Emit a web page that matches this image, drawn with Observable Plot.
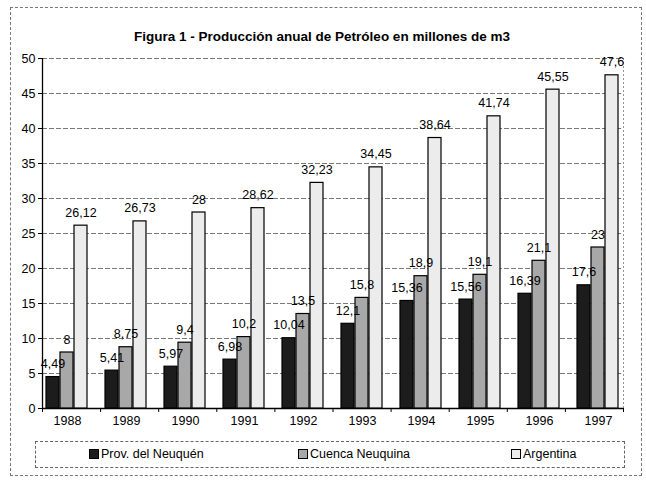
<!DOCTYPE html>
<html>
<head>
<meta charset="utf-8">
<script src="https://cdn.jsdelivr.net/npm/d3@7"></script>
<script src="https://cdn.jsdelivr.net/npm/@observablehq/plot@0.6"></script>
<style>
  body { margin: 0; background: #fff; font-family: "Liberation Sans", Arial, sans-serif; }
  #wrap { position: relative; width: 646px; height: 480px; overflow: hidden; }
  #frame { position: absolute; left: 10px; top: 7px; width: 632px; height: 469px; border: 1px dashed #777; box-sizing: border-box; }
  #title { position: absolute; top: 29px; left: 0; width: 644px; text-align: center; font-weight: bold; font-size: 13.5px; color: #000; }
  .plot { position: absolute; left: 0; top: 0; }
  #legend { position: absolute; left: 35px; top: 441px; width: 590px; height: 27px; border: 1px dashed #666; box-sizing: border-box; }
  .item { position: absolute; top: 5px; font-size: 12.5px; display: flex; align-items: center; gap: 2px; color: #000; }
  .sw { width: 8px; height: 8px; border: 1px solid #000; display: inline-block; }
</style>
</head>
<body>
<div id="wrap">
  <div id="frame"></div>
  <div id="title">Figura 1 - Producción anual de Petróleo en millones de m3</div>
  <div id="legend"></div>
</div>
<script>
const years = ["1988","1989","1990","1991","1992","1993","1994","1995","1996","1997"];
const seriesNames = ["Prov. del Neuquén", "Cuenca Neuquina", "Argentina"];
const neuquen = [4.49, 5.41, 5.97, 6.98, 10.04, 12.1, 15.36, 15.56, 16.39, 17.6];
const cuenca = [8, 8.75, 9.4, 10.2, 13.5, 15.8, 18.9, 19.1, 21.1, 23];
const argentina = [26.12, 26.73, 28, 28.62, 32.23, 34.45, 38.64, 41.74, 45.55, 47.6];
const yTicks = [0, 5, 10, 15, 20, 25, 30, 35, 40, 45, 50];
const colors = ["#1c1c1c", "#a8a8a8", "#ececec"];

const seriesValues = [neuquen, cuenca, argentina];
const data = [];
years.forEach((y, i) => seriesNames.forEach((s, j) => data.push({year: y, series: s, value: seriesValues[j][i]})));
const fmt = v => String(v).replace(".", ",");

const W = 646, H = 440;
const margins = {marginLeft: 42, marginRight: 23, marginTop: 58, marginBottom: 32};
const style = {fontFamily: "'Liberation Sans', Arial, sans-serif", fontSize: "12px", background: "transparent", color: "#000", overflow: "visible"};

const bg = Plot.plot({
  width: W, height: H, ...margins, style,
  x: {domain: [0, years.length], axis: null},
  y: {domain: [0, 50], axis: null},
  marks: [
    Plot.ruleY(yTicks.filter(d => d > 0), {stroke: "#555", strokeWidth: 0.8, strokeDasharray: "5,2"}),
    Plot.ruleX([years.length], {stroke: "#777", strokeWidth: 0.8, strokeDasharray: "2,2"}),
    Plot.axisY({ticks: yTicks, tickSize: 4, tickPadding: 3, fontSize: 12.5, label: null}),
    Plot.axisX({ticks: d3.range(0, years.length + 1), tickFormat: () => "", tickSize: 4, label: null}),
    Plot.ruleX([0], {stroke: "#000", strokeWidth: 1.3}),
    Plot.ruleY([0], {stroke: "#000", strokeWidth: 1.3})
  ]
});
bg.classList.add("plot");

const fg = Plot.plot({
  width: W, height: H, ...margins, style,
  fx: {domain: years, paddingInner: 0.28, paddingOuter: 0.06, label: null},
  x: {domain: seriesNames, axis: null, paddingInner: 0.04, paddingOuter: 0},
  y: {domain: [0, 50], axis: null},
  color: {domain: seriesNames, range: colors},
  marks: [
    Plot.barY(data, {fx: "year", x: "series", y: "value", fill: "series", stroke: "#000", strokeWidth: 1.2}),
    Plot.text(data, {fx: "year", x: "series", y: "value", text: d => fmt(d.value), dy: -13, fontSize: 12.5, fill: "#000"}),
    Plot.axisFx({anchor: "bottom", tickSize: 0, tickPadding: 8, fontSize: 12.5, label: null})
  ]
});
fg.classList.add("plot");

const wrap = document.getElementById("wrap");
wrap.insertBefore(bg, document.getElementById("legend"));
wrap.insertBefore(fg, document.getElementById("legend"));

const legend = document.getElementById("legend");
const lefts = [53, 262, 475];
seriesNames.forEach((s, i) => {
  const it = document.createElement("div");
  it.className = "item";
  it.style.left = lefts[i] + "px";
  it.innerHTML = `<span class="sw" style="background:${colors[i]}"></span><span>${s}</span>`;
  legend.appendChild(it);
});
</script>
</body>
</html>
